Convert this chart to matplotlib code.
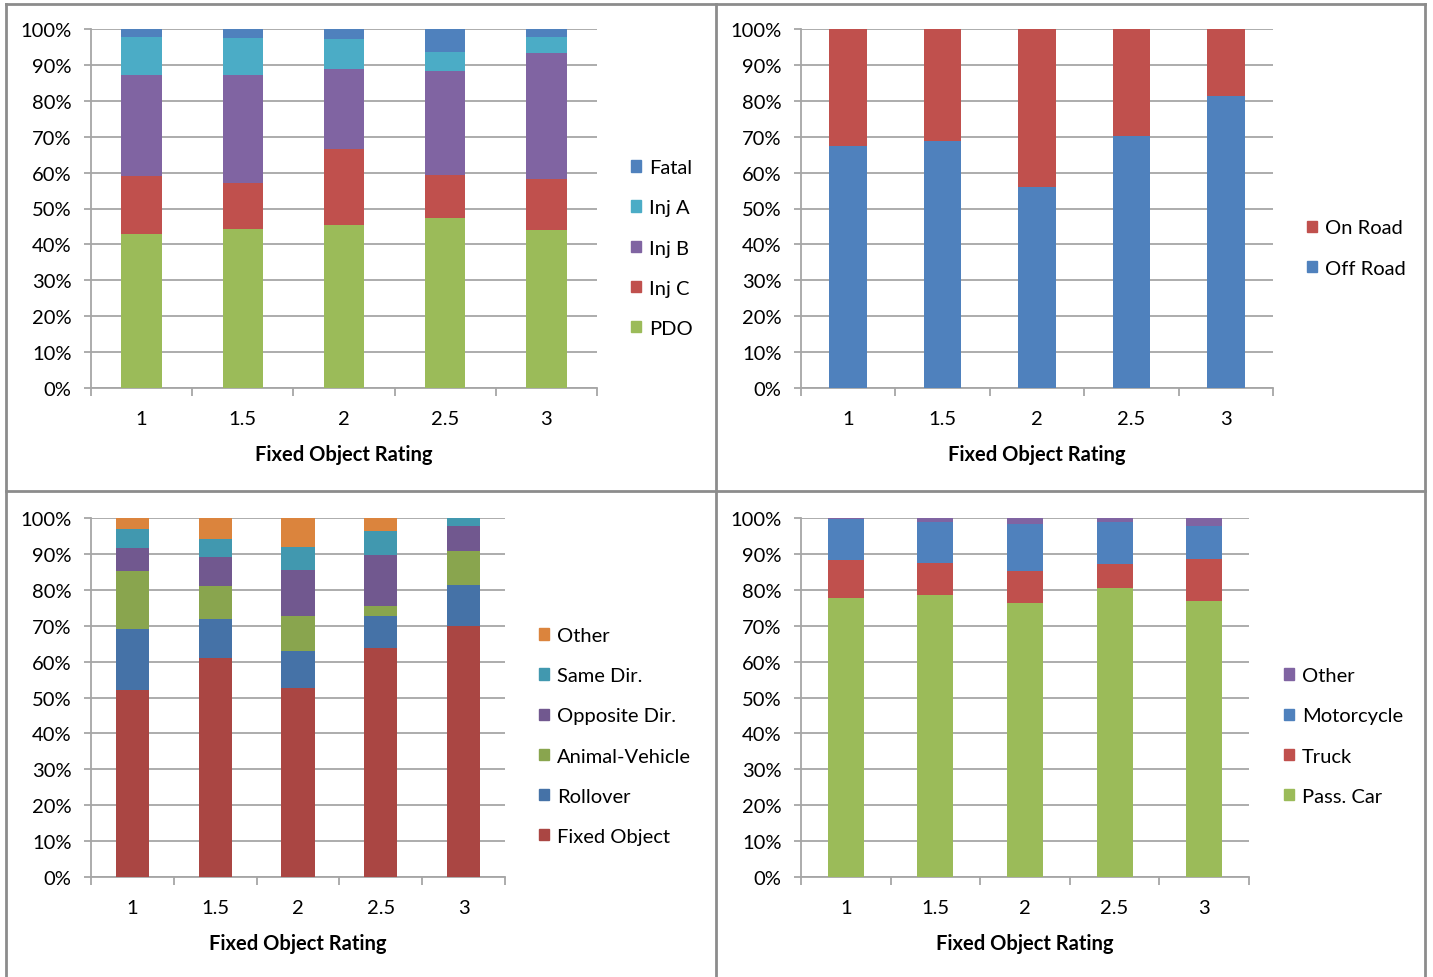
import numpy as np
import matplotlib
matplotlib.use('Agg')
import matplotlib.pyplot as plt
from matplotlib.patches import Patch
from matplotlib.lines import Line2D
from matplotlib.ticker import FixedLocator, PercentFormatter

plt.rcParams['font.family'] = ['Lato', 'DejaVu Sans']

ratings = ['1', '1.5', '2', '2.5', '3']

# severity (bottom -> top)
sev_names = ['PDO', 'Inj C', 'Inj B', 'Inj A', 'Fatal']
pdo = [43.0, 44.4, 45.5, 47.4, 44.1]
inj_c = [16.0, 12.6, 21.2, 11.9, 14.0]
inj_b = [28.3, 30.3, 22.1, 28.9, 35.1]
inj_a = [10.4, 10.1, 8.3, 5.4, 4.5]
fatal = [2.3, 2.6, 2.9, 6.4, 2.3]

# location
loc_names = ['Off Road', 'On Road']
off_road = [67.4, 68.8, 56.1, 70.2, 81.4]
on_road = [32.6, 31.2, 43.9, 29.8, 18.6]

# crash type
type_names = ['Fixed Object', 'Rollover', 'Animal-Vehicle', 'Opposite Dir.', 'Same Dir.', 'Other']
fixed_obj = [52.0, 61.1, 52.6, 63.8, 69.8]
rollover = [17.2, 10.8, 10.4, 9.0, 11.6]
animal = [16.0, 9.2, 9.8, 2.7, 9.5]
opposite = [6.5, 8.0, 12.8, 14.3, 6.9]
same_dir = [5.2, 5.1, 6.2, 6.5, 2.2]
other_type = [3.1, 5.8, 8.2, 3.7, 0.0]

# vehicle
veh_names = ['Pass. Car', 'Truck', 'Motorcycle', 'Other']
pass_car = [77.8, 78.5, 76.3, 80.5, 76.9]
truck = [10.5, 9.1, 8.9, 6.6, 11.7]
motorcycle = [11.3, 11.2, 13.0, 11.9, 9.2]
other_veh = [0.4, 1.2, 1.8, 1.0, 2.2]

W, H = 1433, 978
fig = plt.figure(figsize=(W / 100, H / 100), dpi=100)

grid_c = '#a6a6a6'
fs = 14.5


def make_axes(left, right, top, bottom):
    return fig.add_axes([left / W, 1 - bottom / H, (right - left) / W, (bottom - top) / H])


def stacked(ax, series, names, colors, leg_x, leg_y):
    x = np.arange(len(ratings))
    base = np.zeros(len(ratings))
    for vals, col in zip(series, colors):
        ax.bar(x, vals, 0.4, bottom=base, color=col, zorder=3)
        base += np.array(vals)
    ax.set_xlim(-0.5, len(ratings) - 0.5)
    ax.set_ylim(0, 100)
    ax.yaxis.set_major_locator(FixedLocator(np.arange(0, 101, 10)))
    ax.yaxis.set_major_formatter(PercentFormatter(decimals=0))
    ax.grid(axis='y', color=grid_c, lw=1.3, zorder=0)
    ax.xaxis.set_major_locator(FixedLocator(np.arange(-0.5, len(ratings), 1.0)))
    ax.xaxis.set_minor_locator(FixedLocator(x))
    ax.set_xticklabels([])
    ax.set_xticklabels(ratings, minor=True)
    ax.tick_params(axis='x', which='major', length=6, color=grid_c, width=1.3)
    ax.tick_params(axis='x', which='minor', length=0, pad=16, labelsize=fs)
    ax.tick_params(axis='y', length=5, color=grid_c, width=1.3, pad=9, labelsize=fs)
    for s in ['top', 'right']:
        ax.spines[s].set_visible(False)
    for s in ['left', 'bottom']:
        ax.spines[s].set_color(grid_c)
        ax.spines[s].set_linewidth(1.3)
    ax.set_xlabel('Fixed Object Rating', fontsize=fs, fontweight='bold', labelpad=12)
    handles = [Patch(color=c, label=n) for n, c in zip(names, colors)][::-1]
    ax.legend(handles=handles, loc='center left', bbox_to_anchor=(leg_x / W, 1 - leg_y / H),
              bbox_transform=fig.transFigure, frameon=False, fontsize=fs,
              handlelength=0.5, handleheight=0.5, handletextpad=0.4, labelspacing=1.15,
              borderpad=0, borderaxespad=0)


ax1 = make_axes(91, 597, 30, 389)
stacked(ax1, [pdo, inj_c, inj_b, inj_a, fatal], sev_names,
        ['#9BBB59', '#C0504D', '#8064A2', '#4BACC6', '#4F81BD'], 631, 249)

ax2 = make_axes(801, 1273, 30, 389)
stacked(ax2, [off_road, on_road], loc_names, ['#4F81BD', '#C0504D'], 1307, 249)

ax3 = make_axes(91, 505, 519, 878)
stacked(ax3, [fixed_obj, rollover, animal, opposite, same_dir, other_type], type_names,
        ['#AA4643', '#4572A7', '#89A54E', '#71588F', '#4198AF', '#DB843D'], 539, 737)

ax4 = make_axes(801, 1249, 519, 878)
stacked(ax4, [pass_car, truck, motorcycle, other_veh], veh_names,
        ['#9BBB59', '#C0504D', '#4F81BD', '#8064A2'], 1284, 737)

# panel borders
border_c = '#8c8c8c'
for xp in [6, 716, 1425]:
    fig.add_artist(Line2D([xp / W, xp / W], [1 - 5 / H, 0], color=border_c, lw=2))
for yp in [5, 492]:
    fig.add_artist(Line2D([6 / W, 1425 / W], [1 - yp / H, 1 - yp / H], color=border_c, lw=2))

fig.savefig('out.png', dpi=100)
